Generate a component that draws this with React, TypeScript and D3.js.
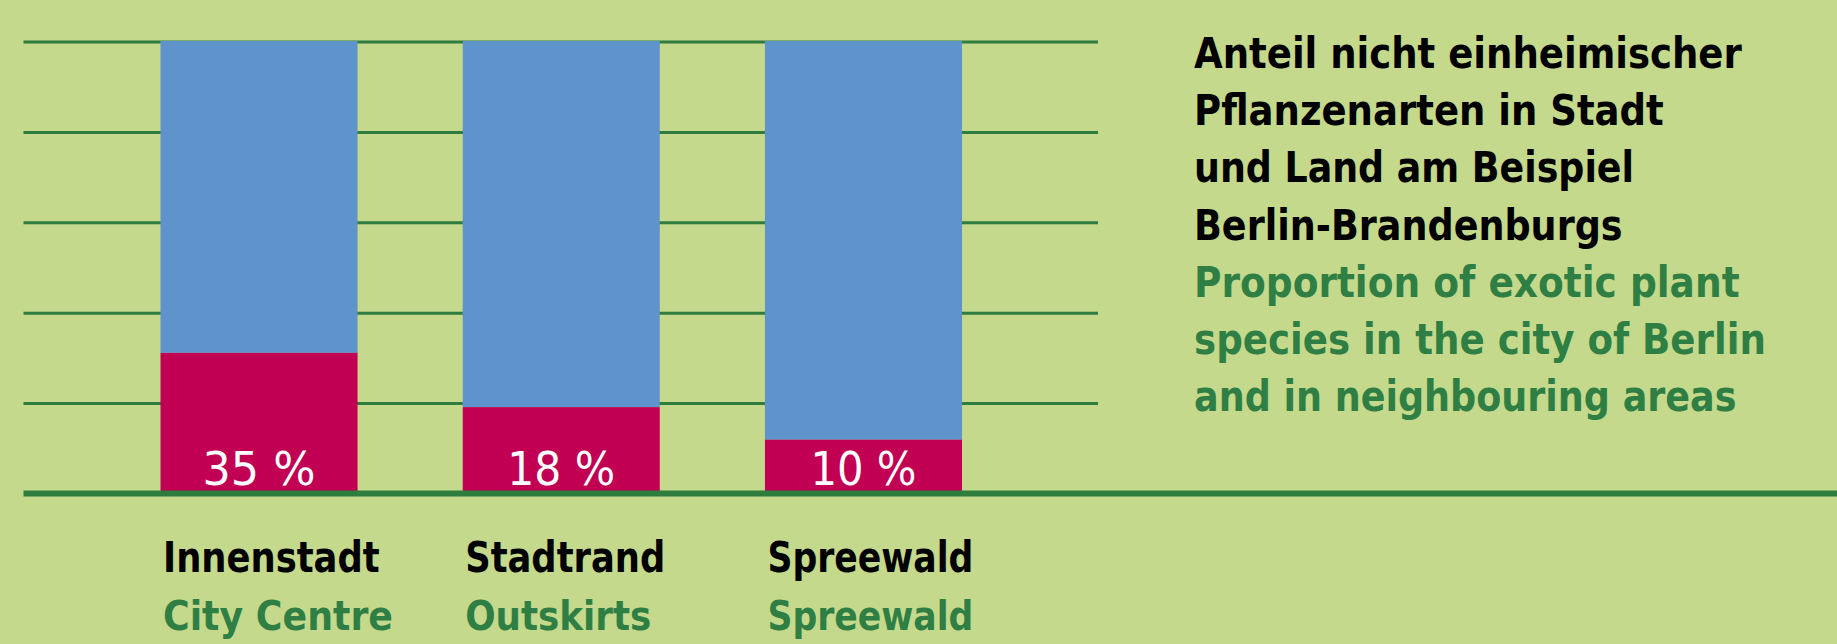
import React from "react";
import * as d3 from "d3";

// categories (German / English)
const categories = ["Innenstadt", "Stadtrand", "Spreewald"];
const categoriesEn = ["City Centre", "Outskirts", "Spreewald"];

// labelled share of exotic species, and the share as drawn in the picture
const shareLabels = ["35 %", "18 %", "10 %"];
const exoticShare = [31, 19, 11.8];

const gridTicks = [0, 20, 40, 60, 80, 100];

const titleDe = [
    "Anteil nicht einheimischer",
    "Pflanzenarten in Stadt",
    "und Land am Beispiel",
    "Berlin-Brandenburgs",
];
const titleEn = [
    "Proportion of exotic plant",
    "species in the city of Berlin",
    "and in neighbouring areas",
];

const W = 1837;
const H = 644;

const colors = {
    bg: "#c4d98c",
    blue: "#5f93cb",
    red: "#c10053",
    line: "#2e7d3e",
    greenText: "#2f7f45",
};

const font = "'Liberation Sans Narrow', 'DejaVu Sans Condensed', 'Liberation Sans', sans-serif";

// measured widths of the texts, so the narrow font fits the original
const catWidths = [216.7, 200, 206];
const catEnWidths = [230, 186, 206];
const pctWidths = [113, 108, 106];
const titleDeWidths = [547.8, 469.8, 440, 428.6];
const titleEnWidths = [545.6, 571.9, 542.5];

export default function App() {
    const y = d3.scaleLinear().domain([0, 100]).range([493, 41]);
    const x = d3.scaleBand<string>()
        .domain(categories)
        .range([160.5, 962])
        .paddingInner(0.348)
        .paddingOuter(0);

    const gridLeft = 23.5;
    const gridRight = 1098;
    const titleX = 1194;
    const titleY0 = 68;
    const lineH = 57.2;

    return (
        <svg
            width={W}
            height={H}
            viewBox={`0 0 ${W} ${H}`}
            style={{ position: "fixed", left: 0, top: 0, display: "block" }}
        >
            <rect width={W} height={H} fill={colors.bg} />

            {/* gridlines */}
            <g>
                {gridTicks.filter(t => t > 0).map(t => (
                    <line
                        key={t}
                        x1={gridLeft}
                        x2={gridRight}
                        y1={y(t) + 1}
                        y2={y(t) + 1}
                        stroke={colors.line}
                        strokeWidth={3}
                    />
                ))}
            </g>

            {/* stacked bars */}
            <g>
                {categories.map((c, i) => {
                    const bx = x(c)!;
                    const bw = x.bandwidth();
                    return (
                        <g key={c}>
                            <rect x={bx} y={y(100)} width={bw} height={y(exoticShare[i]) - y(100)} fill={colors.blue} />
                            <rect x={bx} y={y(exoticShare[i])} width={bw} height={y(0) - y(exoticShare[i])} fill={colors.red} />
                            <text
                                x={bx + bw / 2 - pctWidths[i] / 2}
                                y={485}
                                fill="#fff"
                                fontFamily={font}
                                fontSize={46}
                                fontWeight={400}
                                textLength={pctWidths[i]}
                                lengthAdjust="spacingAndGlyphs"
                            >
                                {shareLabels[i]}
                            </text>
                        </g>
                    );
                })}
            </g>

            {/* baseline */}
            <line x1={gridLeft} x2={W} y1={y(0) + 0.5} y2={y(0) + 0.5} stroke={colors.line} strokeWidth={6} />

            {/* category labels */}
            <g fontFamily={font} fontWeight={700}>
                {categories.map((c, i) => (
                    <text
                        key={"de" + c}
                        x={x(c)! + 2.5}
                        y={572}
                        fontSize={43}
                        fill="#000"
                        textLength={catWidths[i]}
                        lengthAdjust="spacingAndGlyphs"
                    >
                        {c}
                    </text>
                ))}
                {categories.map((c, i) => (
                    <text
                        key={"en" + c}
                        x={x(c)! + 2.5}
                        y={630}
                        fontSize={40}
                        fill={colors.greenText}
                        textLength={catEnWidths[i]}
                        lengthAdjust="spacingAndGlyphs"
                    >
                        {categoriesEn[i]}
                    </text>
                ))}
            </g>

            {/* title */}
            <g fontFamily={font} fontWeight={700} fontSize={43}>
                {titleDe.map((t, i) => (
                    <text
                        key={t}
                        x={titleX}
                        y={titleY0 + i * lineH}
                        fill="#000"
                        textLength={titleDeWidths[i]}
                        lengthAdjust="spacingAndGlyphs"
                    >
                        {t}
                    </text>
                ))}
                {titleEn.map((t, i) => (
                    <text
                        key={t}
                        x={titleX}
                        y={titleY0 + (i + titleDe.length) * lineH}
                        fill={colors.greenText}
                        textLength={titleEnWidths[i]}
                        lengthAdjust="spacingAndGlyphs"
                    >
                        {t}
                    </text>
                ))}
            </g>
        </svg>
    );
}
